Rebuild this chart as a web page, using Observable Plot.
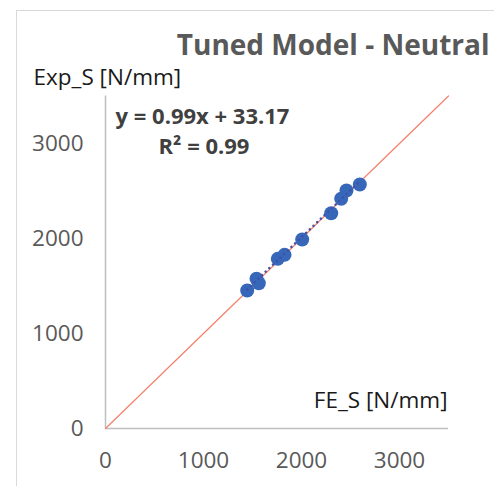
<!DOCTYPE html>
<html>
<head>
<meta charset="utf-8">
<script src="https://cdn.jsdelivr.net/npm/d3@7"></script>
<script src="https://cdn.jsdelivr.net/npm/@observablehq/plot@0.6"></script>
<style>
  html, body { margin: 0; padding: 0; background: #fff; overflow: hidden; width: 494px; height: 486px; }
  #wrap { position: relative; width: 494px; height: 486px; }
  #border { position: absolute; left: 16px; top: 10px; width: 600px; height: 600px; border: 1.5px solid #d9d9d9; box-sizing: border-box; }
  #chart { position: absolute; left: 0; top: 0; }
</style>
</head>
<body>
<div id="wrap"><div id="border"></div><div id="chart"></div></div>
<script>
// Data
const feS  = [1446, 1541, 1564, 1758, 1827, 2007, 2303, 2405, 2459, 2595];
const expS = [1453, 1576, 1529, 1786, 1828, 1989, 2266, 2418, 2505, 2568];
const xTicks = [0, 1000, 2000, 3000];
const yTicks = [0, 1000, 2000, 3000];
const axisMax = 3500;
const slope = 0.99;
const intercept = 33.17;
const titleText = "Tuned Model - Neutral";
const yLabel = "Exp_S [N/mm]";
const xLabel = "FE_S [N/mm]";
const eqText = "y = 0.99x + 33.17";
const r2Text = "R² = 0.99";

const points = feS.map((x, i) => ({x, y: expS[i]}));
const diag = [0, axisMax];
const trendX = [d3.min(feS), d3.max(feS)];

const font = "'Open Sans', sans-serif";

const plot = Plot.plot({
  width: 494,
  height: 486,
  marginLeft: 105,
  marginRight: 46,
  marginTop: 95.5,
  marginBottom: 58,
  style: { fontFamily: font, background: "transparent", overflow: "visible" },
  x: { domain: [0, axisMax] },
  y: { domain: [0, axisMax] },
  marks: [
    Plot.ruleX([0], { stroke: "#bfbfbf", strokeWidth: 1.5 }),
    Plot.ruleY([0], { stroke: "#bfbfbf", strokeWidth: 1.5 }),
    Plot.axisX({ ticks: xTicks, tickSize: 0, tickPadding: 24, fontSize: 22.5, color: "#595959", label: null, tickFormat: d => String(d) }),
    Plot.axisY({ ticks: yTicks, tickSize: 0, tickPadding: 22, fontSize: 22.5, color: "#595959", label: null, tickFormat: d => String(d) }),
    Plot.line(diag, { x: d => d, y: d => d, stroke: "#f4806c", strokeWidth: 1.2 }),
    Plot.dot(points, { x: "x", y: "y", r: 7, fill: "#3767b9", stroke: "none" }),
    Plot.line(trendX, { x: d => d, y: d => slope * d + intercept, stroke: "#4350a8", strokeWidth: 2.5, strokeDasharray: "0.1,5", strokeLinecap: "round" }),
    Plot.text([titleText], { text: d => d, frameAnchor: "top-right", dx: 41, dy: -41, textAnchor: "end", lineAnchor: "bottom", fontSize: 28, fontWeight: "bold", fill: "#595959" }),
    Plot.text([yLabel], { text: d => d, frameAnchor: "top-left", dx: -72, dy: -11.5, textAnchor: "start", lineAnchor: "bottom", fontSize: 22.5, fill: "#1a1a1a" }),
    Plot.text([eqText], { text: d => d, frameAnchor: "top-left", dx: 97, dy: 28, textAnchor: "middle", lineAnchor: "bottom", fontSize: 22, fontWeight: "bold", fill: "#404040" }),
    Plot.text([r2Text], { text: d => d, frameAnchor: "top-left", dx: 98.5, dy: 58, textAnchor: "middle", lineAnchor: "bottom", fontSize: 22, fontWeight: "bold", fill: "#404040" }),
    Plot.text([xLabel], { text: d => d, frameAnchor: "bottom-right", dx: -1, dy: -21, textAnchor: "end", lineAnchor: "bottom", fontSize: 22.5, fill: "#1a1a1a" })
  ]
});
document.getElementById("chart").appendChild(plot);
</script>
</body>
</html>
